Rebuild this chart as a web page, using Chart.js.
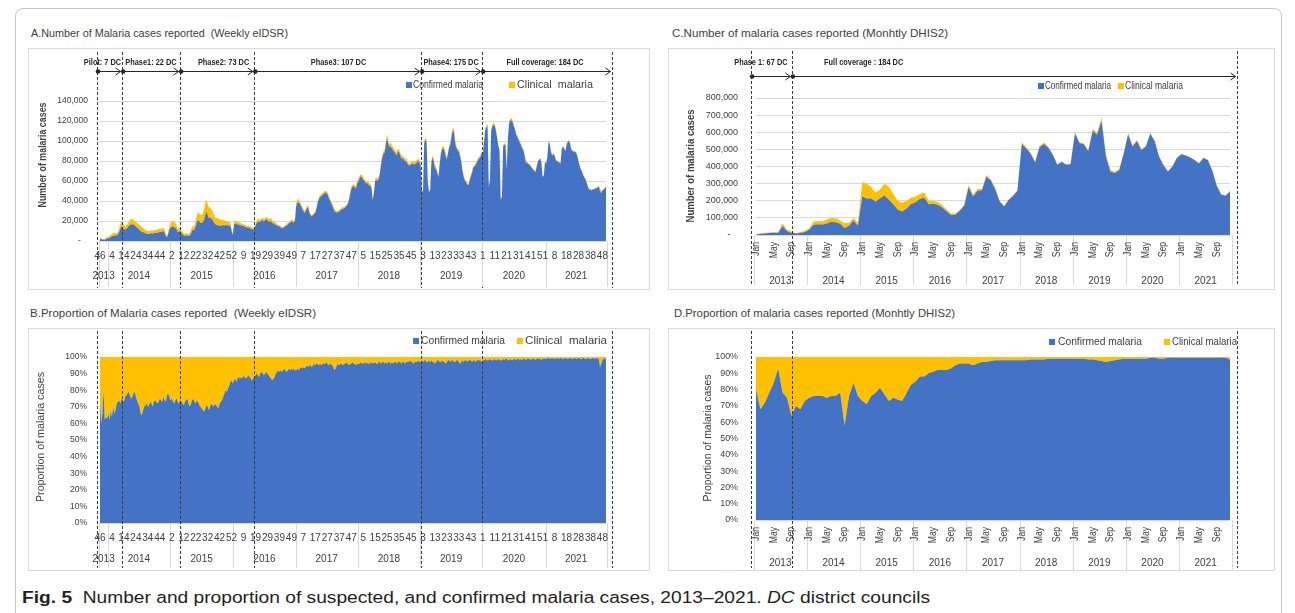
<!DOCTYPE html>
<html>
<head>
<meta charset="utf-8">
<script src="https://cdn.jsdelivr.net/npm/chart.js@4.4.1/dist/chart.umd.min.js"></script>
<style>
  html, body { margin: 0; padding: 0; background: #fff; }
  body { width: 1295px; height: 613px; position: relative; overflow: hidden; font-family: "Liberation Sans", Arial, sans-serif; }
  .frame { position: absolute; left: 15px; top: 8px; width: 1267px; height: 612px; border: 1px solid #c6c6c6; border-radius: 8px; box-sizing: border-box; }
  .title { position: absolute; font-size: 11px; line-height: 14px; color: #404040; white-space: pre; transform-origin: left center; }
  .box { position: absolute; border: 1px solid #d9d9d9; box-sizing: border-box; }
  canvas { position: absolute; }
  #caption { position: absolute; left: 22px; top: 588px; font-size: 16px; line-height: 20px; color: #231f20; white-space: pre; transform-origin: left center; }
</style>
</head>
<body>
<div class="frame"></div>

<div class="title" style="left:31px;top:26px" data-w="257">A.Number of Malaria cases reported  (Weekly eIDSR)</div>
<div class="title" style="left:672px;top:26px" data-w="276">C.Number of malaria cases reported (Monhtly DHIS2)</div>
<div class="title" style="left:30px;top:306px" data-w="286">B.Proportion of Malaria cases reported  (Weekly eIDSR)</div>
<div class="title" style="left:674px;top:306px" data-w="281">D.Proportion of malaria cases reported (Monhtly DHIS2)</div>

<div class="box" style="left:28px;top:48px;width:622px;height:242px"></div>
<div class="box" style="left:668px;top:48px;width:607px;height:242px"></div>
<div class="box" style="left:28px;top:328px;width:622px;height:243px"></div>
<div class="box" style="left:668px;top:328px;width:607px;height:243px"></div>

<canvas id="chartA" width="622" height="242" style="left:28px;top:48px"></canvas>
<canvas id="chartC" width="607" height="242" style="left:668px;top:48px"></canvas>
<canvas id="chartB" width="622" height="243" style="left:28px;top:328px"></canvas>
<canvas id="chartD" width="607" height="243" style="left:668px;top:328px"></canvas>

<div id="caption" data-w="908"><b>Fig. 5</b>  Number and proportion of suspected, and confirmed malaria cases, 2013–2021. <i>DC</i> district councils</div>

<script>
const seriesNames = ['Confirmed malaria', 'Clinical malaria'];

// ---- weekly eIDSR (panels A and B) ----
const weekYears = [2013, 2014, 2015, 2016, 2017, 2018, 2019, 2020, 2021];
const firstWeek = [46, 1, 1, 1, 1, 1, 1, 1, 1];

// all malaria cases reported per week, thousands
const casesWk2013 = [3, 3, 2, 2, 2, 3, 4];
const casesWk2014 = [4, 5, 6, 7, 8, 8, 8, 8, 9, 12, 17, 19, 18, 16, 15, 16, 17, 19, 21, 22,
  22, 21, 20, 19, 18, 17, 16, 15, 14, 13, 12, 11, 10, 10, 10, 10, 11, 10, 11, 11,
  11, 11, 12, 12, 12, 13, 13, 11, 7, 5, 9, 15];
const casesWk2015 = [18, 19, 20, 19, 18, 16, 12, 13, 14, 11, 9, 8, 7, 8, 7, 7, 8, 10, 15, 14,
  16, 20, 26, 29, 27, 26, 26, 28, 32, 38, 42, 37, 34, 33, 32, 30, 27, 24, 23, 23,
  22, 22, 21, 21, 21, 20, 20, 20, 19, 19, 18, 12, 7];
const casesWk2016 = [19, 20, 20, 19, 19, 18, 18, 17, 17, 16, 16, 15, 15, 15, 14, 14, 13, 14, 17, 20,
  22, 22, 21, 23, 23, 22, 23, 24, 23, 22, 22, 23, 21, 20, 19, 18, 17, 16, 16, 15,
  14, 14, 15, 16, 17, 18, 19, 20, 21, 21, 20, 22];
const casesWk2017 = [38, 41, 42, 40, 37, 35, 32, 30, 32, 35, 36, 30, 27, 26, 27, 28, 30, 34, 40, 44,
  46, 47, 48, 49, 50, 50, 49, 46, 43, 40, 38, 35, 32, 31, 30, 30, 31, 32, 33, 34,
  34, 35, 36, 38, 42, 48, 54, 56, 57, 56, 55, 60];
const casesWk2018 = [62, 65, 67, 66, 64, 62, 60, 60, 59, 58, 57, 55, 42, 50, 62, 63, 63, 64, 70, 80,
  86, 90, 92, 100, 107, 100, 97, 98, 96, 94, 92, 90, 89, 92, 92, 88, 86, 85, 84, 83,
  82, 80, 78, 77, 79, 80, 80, 79, 80, 81, 83, 80];
const casesWk2019 = [80, 52, 50, 100, 103, 102, 62, 50, 52, 80, 86, 82, 76, 74, 70, 65, 80, 90, 94, 95,
  93, 88, 84, 90, 96, 100, 108, 113, 112, 100, 95, 92, 92, 88, 82, 72, 66, 62, 60, 58,
  57, 62, 66, 70, 75, 76, 78, 80, 83, 84, 86, 90];
const casesWk2020 = [88, 100, 112, 116, 117, 55, 62, 112, 117, 118, 117, 112, 105, 96, 92, 42, 45, 96, 98, 97,
  72, 105, 120, 122, 123, 121, 116, 112, 108, 105, 102, 100, 97, 94, 92, 86, 80, 79, 78, 77,
  76, 74, 72, 71, 70, 75, 80, 82, 83, 80, 65, 66, 80];
const casesWk2021 = [78, 85, 100, 98, 90, 86, 88, 86, 82, 80, 80, 79, 78, 93, 95, 94, 90, 97, 100, 101,
  98, 92, 91, 90, 90, 89, 86, 80, 76, 72, 70, 66, 64, 62, 58, 54, 52, 52, 51, 52,
  52, 53, 53, 54, 55, 53, 50, 51, 52, 53, 55];

// share of weekly cases that were confirmed, %
const confPctWk2013 = [74, 60, 66, 80, 62, 64, 63];
const confPctWk2014 = [66, 62, 68, 64, 70, 66, 68, 72, 73, 74, 72, 75, 74, 73, 76, 77, 78, 79, 77, 75,
  76, 78, 79, 76, 74, 72, 70, 66, 65, 68, 70, 71, 72, 70, 71, 73, 72, 70, 73, 74,
  73, 72, 73, 75, 74, 73, 76, 74, 73, 77, 78, 76];
const confPctWk2015 = [74, 75, 73, 72, 74, 75, 73, 72, 74, 73, 72, 71, 73, 74, 75, 72, 70, 72, 74, 75,
  73, 72, 74, 73, 71, 70, 69, 68, 67, 69, 71, 70, 68, 70, 72, 71, 70, 72, 71, 70,
  69, 72, 73, 74, 76, 78, 80, 79, 81, 83, 85, 86, 84];
const confPctWk2016 = [86, 87, 85, 87, 88, 87, 88, 87, 89, 88, 87, 88, 89, 88, 87, 86, 87, 88, 89, 90,
  89, 88, 90, 91, 90, 89, 90, 91, 90, 89, 88, 87, 86, 87, 88, 90, 91, 92, 91, 92,
  91, 92, 93, 92, 91, 92, 93, 92, 93, 92, 93, 92];
const confPctWk2017 = [92, 93, 92, 93, 94, 93, 94, 93, 94, 95, 94, 95, 95, 94, 95, 96, 95, 96, 96, 95,
  96, 95, 96, 96, 96, 97, 96, 95, 96, 96, 95, 94, 92, 93, 95, 96, 95, 96, 96, 95,
  96, 96, 97, 96, 95, 96, 96, 97, 96, 96, 95, 96];
const confPctWk2018 = [96, 96, 97, 96, 96, 97, 96, 97, 96, 96, 97, 96, 97, 96, 97, 96, 96, 97, 97, 96,
  97, 97, 96, 97, 96, 97, 97, 96, 97, 96, 97, 97, 96, 97, 97, 97, 96, 97, 97, 96,
  97, 97, 97, 98, 97, 97, 96, 97, 97, 97, 98, 97];
const confPctWk2019 = [97, 98, 97, 98, 98, 97, 97, 98, 97, 98, 97, 97, 96, 97, 98, 98, 97, 97, 98, 97,
  97, 96, 97, 98, 98, 97, 98, 98, 97, 97, 98, 98, 97, 96, 97, 98, 97, 98, 98, 97,
  98, 98, 98, 97, 98, 98, 97, 98, 98, 98, 98, 97];
const confPctWk2020 = [98, 98, 99, 98, 98, 98, 99, 98, 98, 98, 99, 98, 98, 99, 98, 98, 98, 99, 98, 99,
  99, 98, 98, 99, 98, 98, 99, 99, 98, 99, 99, 98, 99, 98, 99, 99, 98, 99, 99, 99,
  98, 99, 99, 99, 98, 99, 99, 99, 99, 98, 99, 99, 99];
const confPctWk2021 = [99, 99, 99.5, 99, 99, 99.5, 99, 99, 99, 99.5, 99, 99, 99.5, 99, 99, 99, 99.5, 99, 99, 99,
  99.5, 99, 99, 99, 99.5, 99, 99, 99.5, 99, 99, 99, 99.5, 99, 99, 99, 99.5, 99, 99, 99, 99.5,
  99, 99, 99.5, 99, 99, 94, 96, 98, 99, 99, 99];

// ---- monthly DHIS2 (panels C and D) ----
const monthNames = ['Jan', 'Feb', 'Mar', 'Apr', 'May', 'Jun', 'Jul', 'Aug', 'Sep', 'Oct', 'Nov', 'Dec'];
const monthYears = [2013, 2014, 2015, 2016, 2017, 2018, 2019, 2020, 2021];
const monthTicks = ['Jan', 'May', 'Sep'];
// all malaria cases reported per month, thousands
const casesMonthlyK = [
  3, 10, 13, 15, 16, 14, 68, 30, 20, 12, 18, 24,
  40, 78, 82, 80, 90, 100, 98, 85, 68, 72, 100, 72,
  310, 300, 280, 250, 265, 300, 282, 240, 200, 188, 198, 218,
  225, 240, 248, 200, 200, 192, 175, 150, 125, 125, 148, 178,
  292, 236, 268, 270, 350, 326, 274, 200, 170, 208, 232, 262,
  542, 515, 482, 430, 520, 540, 515, 474, 414, 430, 414, 418,
  600, 542, 535, 496, 618, 598, 685, 472, 380, 370, 385, 480,
  595, 522, 555, 502, 520, 595, 550, 462, 410, 372, 402, 452,
  474, 466, 455, 440, 420, 452, 440, 378, 290, 238, 230, 258];
// share of monthly cases that were confirmed, %
const confPctMonthly = [
  80, 68, 72, 78, 84, 93, 78, 75, 64, 70, 68, 73,
  75, 76, 76, 76, 75, 76, 76, 78, 58, 76, 84, 76,
  73, 71, 76, 78, 81, 77, 73, 75, 74, 73, 78, 83,
  85, 88, 88, 90, 91, 92, 92, 92, 93, 95, 96, 96,
  96, 95, 96, 97, 97, 97.5, 98, 98, 98, 98, 98, 98,
  98, 98, 98.5, 98.5, 98.5, 98.5, 99, 99, 99, 99, 99, 99,
  99, 99, 99, 98.5, 98.5, 98, 97.5, 97, 97.5, 98, 98.5, 99,
  99, 99, 99, 99, 99, 99.5, 99.5, 99, 99, 99.5, 99.5, 99.5,
  99.5, 99.5, 99.5, 99.5, 99.5, 99.5, 99.5, 99.5, 99.5, 99.5, 99.5, 98.5];

// rollout phases (boundaries in week / month positions on the x axis)
const phaseNamesA = ['Pilot: 7 DC', 'Phase1: 22 DC', 'Phase2: 73 DC', 'Phase3: 107 DC', 'Phase4: 175 DC', 'Full coverage: 184 DC'];
const phaseBoundsA = [-2.5, 18.5, 67, 129, 268.5, 319.5, 428];
const phaseNamesC = ['Phase 1: 67 DC', 'Full coverage : 184 DC'];
const phaseBoundsC = [-1.1, 8.1, 108.6];

const BLUE = '#4472C4';
const YELLOW = '#FFC000';

// pick a narrow face if one is installed, else squeeze the regular one
const probe = document.createElement('canvas').getContext('2d');
probe.font = '20px "Liberation Sans Narrow", monospace';
const wNarrow = probe.measureText('Confirmed malaria 140,000').width;
probe.font = '20px monospace';
const wMono = probe.measureText('Confirmed malaria 140,000').width;
const hasNarrow = Math.abs(wNarrow - wMono) > 1;
const REGULAR = '"Liberation Sans", Arial, sans-serif';
const FAMILY = hasNarrow ? '"Liberation Sans Narrow", ' + REGULAR : REGULAR;
const SQUEEZE = hasNarrow ? 1 : 0.82;

// build weekly series
const weekLabels = [];
const weekYearOf = [];
const weekCases = [].concat(casesWk2013, casesWk2014, casesWk2015, casesWk2016, casesWk2017,
  casesWk2018, casesWk2019, casesWk2020, casesWk2021);
const weekPct = [].concat(confPctWk2013, confPctWk2014, confPctWk2015, confPctWk2016, confPctWk2017,
  confPctWk2018, confPctWk2019, confPctWk2020, confPctWk2021);
[casesWk2013, casesWk2014, casesWk2015, casesWk2016, casesWk2017, casesWk2018, casesWk2019, casesWk2020, casesWk2021]
  .forEach((arr, k) => {
    arr.forEach((_, j) => {
      weekLabels.push(String(firstWeek[k] + j));
      weekYearOf.push(weekYears[k]);
    });
  });
const weekConfirmed = weekCases.map((c, i) => Math.round(c * 1000 * weekPct[i] / 100));
const weekClinical = weekCases.map((c, i) => c * 1000 - weekConfirmed[i]);
const weekConfPct = weekPct.slice();
const weekClinPct = weekPct.map(p => 100 - p);

// build monthly series
const monthLabels = [];
const monthYearOf = [];
monthYears.forEach(y => monthNames.forEach(m => { monthLabels.push(m); monthYearOf.push(y); }));
const monthConfirmed = casesMonthlyK.map((c, i) => Math.round(c * 1000 * confPctMonthly[i] / 100));
const monthClinical = casesMonthlyK.map((c, i) => c * 1000 - monthConfirmed[i]);
const monthConfPct = confPctMonthly.slice();
const monthClinPct = confPctMonthly.map(p => 100 - p);

function drawText(ctx, s, x, y, o) {
  ctx.save();
  ctx.font = (o.bold ? 'bold ' : '') + o.size + 'px ' + (o.plain ? REGULAR : FAMILY);
  ctx.fillStyle = o.color || '#404040';
  ctx.textAlign = o.align || 'center';
  ctx.textBaseline = 'middle';
  let sx = o.plain ? 1 : SQUEEZE;
  if (o.w) sx = o.w / ctx.measureText(s).width;
  ctx.translate(x, y);
  if (o.rotate) ctx.rotate(o.rotate);
  ctx.scale(sx, 1);
  ctx.fillText(s, 0, 0);
  ctx.restore();
}

function makeDecor(d) {
  return {
    id: 'decor',
    afterDatasetsDraw(chart) {
      const { ctx } = chart;
      const xs = chart.scales.x;
      ctx.save();
      ctx.strokeStyle = '#3a3a3a';
      ctx.lineWidth = 1;
      ctx.setLineDash([3, 2]);
      d.bounds.forEach(b => {
        const x = Math.round(xs.getPixelForValue(b)) + 0.5;
        ctx.beginPath();
        ctx.moveTo(x, d.dashTop);
        ctx.lineTo(x, d.dashBottom);
        ctx.stroke();
      });
      ctx.restore();
    },
    afterDraw(chart) {
      const { ctx, chartArea } = chart;
      const xs = chart.scales.x;
      const labels = chart.data.labels;
      const n = labels.length;
      const bottom = chartArea.bottom;

      // year groups: separators and names
      const starts = [];
      d.yearOf.forEach((y, i) => { if (i === 0 || y !== d.yearOf[i - 1]) starts.push(i); });
      starts.push(n);
      ctx.save();
      ctx.strokeStyle = '#d9d9d9';
      ctx.lineWidth = 1;
      starts.forEach(s => {
        const x = Math.round(xs.getPixelForValue(s - 0.5)) + 0.5;
        ctx.beginPath();
        ctx.moveTo(x, bottom);
        ctx.lineTo(x, bottom + d.sepDepth);
        ctx.stroke();
      });
      ctx.restore();
      for (let k = 0; k < starts.length - 1; k++) {
        const mid = (starts[k] + starts[k + 1] - 1) / 2;
        drawText(ctx, String(d.yearOf[starts[k]]), xs.getPixelForValue(mid), bottom + d.yearRow, { size: 10, plain: true });
      }

      // category tick labels
      if (d.kind === 'week') {
        labels.forEach((lab, i) => {
          if (i % 10 === 0) drawText(ctx, lab, xs.getPixelForValue(i), bottom + d.tickRow, { size: 10, plain: true });
        });
      } else {
        labels.forEach((lab, i) => {
          if (monthTicks.includes(lab)) {
            drawText(ctx, lab, xs.getPixelForValue(i), bottom + d.tickRow, { size: 10.5, align: 'right', rotate: -Math.PI / 2 });
          }
        });
      }

      // phase arrows
      if (d.phases) {
        const p = d.phases;
        ctx.save();
        ctx.strokeStyle = '#262626';
        ctx.fillStyle = '#262626';
        ctx.lineWidth = 1;
        for (let k = 0; k < p.names.length; k++) {
          const x0 = xs.getPixelForValue(d.bounds[k]);
          const x1 = xs.getPixelForValue(d.bounds[k + 1]) - 1.5;
          const y = p.arrowY + 0.5;
          ctx.beginPath();
          ctx.moveTo(x0, y);
          ctx.lineTo(x1, y);
          ctx.moveTo(x1 - 5, y - 3.5);
          ctx.lineTo(x1, y);
          ctx.lineTo(x1 - 5, y + 3.5);
          ctx.stroke();
          ctx.beginPath();
          ctx.arc(x0 + 1, y, 2.3, 0, Math.PI * 2);
          ctx.fill();
          drawText(ctx, p.names[k], xs.getPixelForValue(p.textAt[k]), p.textY, { size: 9, bold: true, color: '#262626' });
        }
        ctx.restore();
      }

      // legend
      const lg = d.legend;
      [BLUE, YELLOW].forEach((c, k) => {
        ctx.fillStyle = c;
        ctx.fillRect(lg.box[k], lg.y - 3, 6, 6);
        drawText(ctx, lg.text[k], lg.textX[k], lg.y, { size: 10, align: 'left', w: lg.w[k], color: '#404040' });
      });

      // y axis title
      const t = d.yTitle;
      drawText(ctx, t.text, t.x, t.y, { size: 10, bold: t.bold, w: t.w, rotate: -Math.PI / 2, color: '#404040' });
    }
  };
}

function buildChart(id, p) {
  const tickFont = { family: FAMILY, size: hasNarrow ? p.tickSize : p.tickSize * 0.85 };
  return new Chart(document.getElementById(id), {
    type: 'line',
    data: {
      labels: p.labels,
      datasets: [
        { label: seriesNames[0], data: p.confirmed, backgroundColor: BLUE, borderColor: BLUE, borderWidth: 0, pointRadius: 0, fill: 'origin', tension: 0 },
        { label: seriesNames[1], data: p.clinical, backgroundColor: YELLOW, borderColor: YELLOW, borderWidth: 0, pointRadius: 0, fill: '-1', tension: 0 }
      ]
    },
    options: {
      responsive: false,
      animation: false,
      devicePixelRatio: 1,
      layout: { padding: p.padding },
      plugins: { legend: { display: false }, tooltip: { enabled: false } },
      scales: {
        x: { type: 'category', display: false },
        y: {
          stacked: true,
          min: 0,
          max: p.yMax,
          afterFit: (scale) => { scale.width = p.yWidth; },
          border: { display: false },
          grid: { color: '#d9d9d9', drawTicks: false },
          ticks: { stepSize: p.yStep, padding: p.tickPad, color: '#404040', font: tickFont, callback: p.tickFmt }
        }
      }
    },
    plugins: [makeDecor(p.decor)]
  });
}

const countFmt = v => (v === 0 ? '-   ' : v.toLocaleString('en-US'));
const pctFmt = v => v + '%';

buildChart('chartA', {
  labels: weekLabels, confirmed: weekConfirmed, clinical: weekClinical,
  yMax: 140000, yStep: 20000, yWidth: 72, tickPad: 12, tickSize: 10, tickFmt: countFmt,
  padding: { left: 0, top: 53, right: 44, bottom: 49 },
  decor: {
    kind: 'week', yearOf: weekYearOf, bounds: phaseBoundsA,
    dashTop: 4, dashBottom: 240, tickRow: 15, yearRow: 35, sepDepth: 46,
    phases: { names: phaseNamesA, textAt: [2.1, 42.6, 103.3, 199.4, 293.5, 372], textY: 15, arrowY: 23 },
    legend: { y: 37, box: [378, 481], textX: [385, 489], text: ['Confirmed malaria', 'Clinical  malaria'], w: [70, 76] },
    yTitle: { text: 'Number of malaria cases', x: 15, y: 107, bold: true, w: 105 }
  }
});

buildChart('chartB', {
  labels: weekLabels, confirmed: weekConfPct, clinical: weekClinPct,
  yMax: 100, yStep: 10, yWidth: 72, tickPad: 13, tickSize: 10, tickFmt: pctFmt,
  padding: { left: 0, top: 29, right: 44, bottom: 48 },
  decor: {
    kind: 'week', yearOf: weekYearOf, bounds: phaseBoundsA,
    dashTop: 3, dashBottom: 240, tickRow: 15, yearRow: 36, sepDepth: 45,
    legend: { y: 13, box: [385, 489], textX: [393, 497], text: ['Confirmed malaria', 'Clinical  malaria'], w: [84, 82] },
    yTitle: { text: 'Proportion of malaria cases', x: 13, y: 109, bold: false, w: 130 }
  }
});

buildChart('chartC', {
  labels: monthLabels, confirmed: monthConfirmed, clinical: monthClinical,
  yMax: 800000, yStep: 100000, yWidth: 88, tickPad: 18, tickSize: 10.5, tickFmt: countFmt,
  padding: { left: 0, top: 50, right: 45, bottom: 55 },
  decor: {
    kind: 'month', yearOf: monthYearOf, bounds: phaseBoundsC,
    dashTop: 3, dashBottom: 237, tickRow: 7, yearRow: 46, sepDepth: 50,
    phases: { names: phaseNamesC, textAt: [1.1, 24.3], textY: 15, arrowY: 28 },
    legend: { y: 38, box: [370, 450], textX: [377, 457], text: ['Confirmed malaria', 'Clinical malaria'], w: [66, 58] },
    yTitle: { text: 'Number of malaria cases', x: 23, y: 118, bold: true, w: 113 }
  }
});

buildChart('chartD', {
  labels: monthLabels, confirmed: monthConfPct, clinical: monthClinPct,
  yMax: 100, yStep: 10, yWidth: 88, tickPad: 18, tickSize: 10.5, tickFmt: pctFmt,
  padding: { left: 0, top: 29, right: 45, bottom: 51 },
  decor: {
    kind: 'month', yearOf: monthYearOf, bounds: phaseBoundsC,
    dashTop: 3, dashBottom: 240, tickRow: 7, yearRow: 43, sepDepth: 50,
    legend: { y: 14, box: [381, 496], textX: [390, 504], text: ['Confirmed malaria', 'Clinical malaria'], w: [84, 65] },
    yTitle: { text: 'Proportion of malaria cases', x: 40, y: 110, bold: false, w: 127 }
  }
});

// fit html text runs to their measured widths in the figure
document.querySelectorAll('[data-w]').forEach(el => {
  el.style.fontFamily = FAMILY;
  const w = el.getBoundingClientRect().width;
  el.style.transform = 'scaleX(' + (Number(el.dataset.w) / w) + ')';
});
</script>
</body>
</html>
